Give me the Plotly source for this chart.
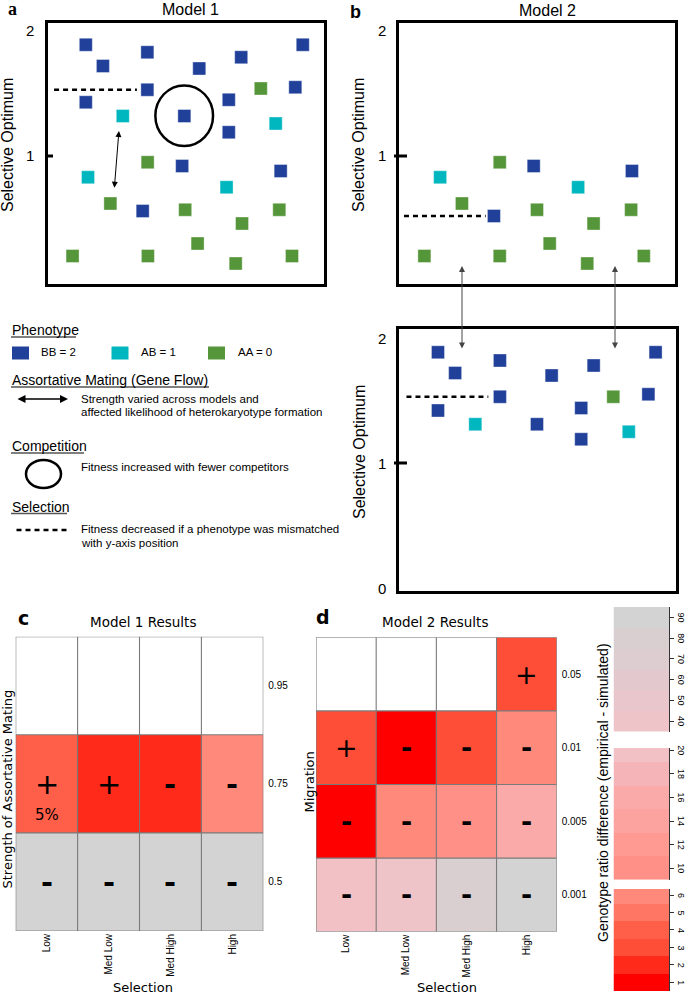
import plotly.graph_objects as go

W, H = 685, 995

# ---------------- data ----------------
GENO_COLORS = {2: "#21409a", 1: "#00b7bf", 0: "#56963a"}
GENO_LABELS = {2: "BB = 2", 1: "AB = 1", 0: "AA = 0"}

# Model 1 schematic (x: position across panel 0-100, y: selective optimum)
m1_x = [13.7, 19.9, 36.0, 54.8, 70.0, 92.3, 36.0, 89.6, 13.7, 65.5, 49.4, 65.5, 48.6, 84.3, 34.3,
        27.1, 82.5, 14.5, 64.7,
        77.1, 36.1, 22.6, 49.7, 83.8, 70.3, 54.2, 8.9, 36.2, 68.0, 88.4]
m1_y = [1.89, 1.72, 1.83, 1.70, 1.79, 1.89, 1.53, 1.55, 1.43, 1.45, 1.32, 1.19, 0.92, 0.88, 0.56,
        1.32, 1.26, 0.83, 0.75,
        1.54, 0.95, 0.62, 0.57, 0.57, 0.46, 0.30, 0.20, 0.20, 0.14, 0.20]
m1_g = [2, 2, 2, 2, 2, 2, 2, 2, 2, 2, 2, 2, 2, 2, 2,
        1, 1, 1, 1,
        0, 0, 0, 0, 0, 0, 0, 0, 0, 0, 0]

# Model 2 - lower-optimum population
m2a_x = [14.9, 22.8, 36.5, 48.8, 34.4, 50.0, 64.9, 84.4, 84.1, 70.5, 54.6, 9.2, 36.5, 68.2, 88.7]
m2a_y = [0.83, 0.62, 0.95, 0.92, 0.52, 0.57, 0.75, 0.88, 0.57, 0.46, 0.30, 0.20, 0.20, 0.14, 0.20]
m2a_g = [1, 0, 0, 2, 2, 0, 1, 2, 0, 0, 0, 0, 0, 0, 0]

# Model 2 - higher-optimum population
m2b_x = [14.1, 20.3, 36.5, 55.2, 70.4, 92.8, 36.5, 77.5, 90.2, 14.1, 65.9, 27.6, 49.9, 83.1, 65.9]
m2b_y = [1.886, 1.72, 1.82, 1.70, 1.78, 1.886, 1.53, 1.53, 1.55, 1.42, 1.44, 1.31, 1.31, 1.25, 1.19]
m2b_g = [2, 2, 2, 2, 2, 2, 2, 0, 2, 2, 2, 1, 2, 1, 2]

# selection (dashed) lines: [x0, x1], y
m1_sel_x, m1_sel_y = [2.2, 32.2], 1.53
m2a_sel_x, m2a_sel_y = [1.8, 31.4], 0.52
m2b_sel_x, m2b_sel_y = [2.7, 32.3], 1.53

# competition circle / assortative-mating arrow (model 1)
m1_comp_x, m1_comp_y = [38.9, 59.8], [1.08, 1.565]
m1_mate_x, m1_mate_y = [25.7, 24.0], [1.20, 0.734]

# results heatmaps
selection_levels = ["Low", "Med Low", "Med High", "High"]
mating_levels = ["0.5", "0.75", "0.95"]
m1_ratio = [[90, 90, 90, 90],
            [4, 2, 2, 6],
            [None, None, None, None]]
m1_sign = [["-", "-", "-", "-"],
           ["+", "+", "-", "-"],
           ["", "", "", ""]]

migration_levels = ["0.001", "0.005", "0.01", "0.05"]
m2_ratio = [[20, 40, 80, 90],
            [1, 6, 10, 16],
            [3, 1, 3, 6],
            [None, None, None, 3]]
m2_sign = [["-", "-", "-", "-"],
           ["-", "-", "-", "-"],
           ["+", "-", "-", "-"],
           ["", "", "", "+"]]

# colour bands of the (broken) genotype-ratio scale
band_vals = [1, 2, 3, 4, 5, 6, 10, 12, 14, 16, 18, 20, 40, 50, 60, 70, 80, 90]
band_colors = ["#ff0000", "#ff2a1a", "#ff4e38", "#ff5f48", "#ff7664", "#ff897b",
               "#ff9088", "#ff9a92", "#fca39f", "#f9aaa9", "#f5b5b8", "#f2c1c6",
               "#efc4c9", "#e9c6cb", "#e3c9cd", "#ddccd0", "#d9cfd1", "#d3d3d3"]
seg_low = [1, 2, 3, 4, 5, 6]
seg_mid = [10, 12, 14, 16, 18, 20]
seg_high = [40, 50, 60, 70, 80, 90]

# ---------------- helpers ----------------
def px(x):
    return x / W

def py(y):
    return 1 - y / H

def dom_x(a, b):
    return [a / W, b / W]

def dom_y(top, bottom):
    return [1 - bottom / H, 1 - top / H]

n = len(band_colors)
cscale = []
for i, c in enumerate(band_colors):
    cscale.append([i / n, c])
    cscale.append([(i + 1) / n, c])

def to_idx(mat):
    return [[None if v is None else band_vals.index(v) for v in row] for row in mat]

fig = go.Figure()
annotations = []
shapes = []

SANS = "Liberation Sans, Arial, sans-serif"
DJ = "DejaVu Sans, sans-serif"

def text(t, x, y, size, family=SANS, xanchor="center", yanchor="middle", angle=0, color="black"):
    annotations.append(dict(text=t, x=px(x), y=py(y), xref="paper", yref="paper",
                            xanchor=xanchor, yanchor=yanchor, showarrow=False,
                            textangle=angle, font=dict(size=size, family=family, color=color)))

# ---------------- schematic panels ----------------
def schematic(xs, ys, gs, xa, ya):
    for g in [2, 1, 0]:
        sx = [x for x, gg in zip(xs, gs) if gg == g]
        sy = [y for y, gg in zip(ys, gs) if gg == g]
        fig.add_trace(go.Scatter(x=sx, y=sy, mode="markers", xaxis=xa, yaxis=ya,
                                 marker=dict(symbol="square", size=13, color=GENO_COLORS[g],
                                             line=dict(width=0.6, color="rgba(255,255,255,0.6)")),
                                 name=GENO_LABELS[g], showlegend=False, hoverinfo="skip"))

schematic(m1_x, m1_y, m1_g, "x", "y")
schematic(m2a_x, m2a_y, m2a_g, "x2", "y2")
schematic(m2b_x, m2b_y, m2b_g, "x3", "y3")

box_axis = dict(showline=True, mirror=True, linewidth=3, linecolor="black",
                showticklabels=False, ticks="", showgrid=False, zeroline=False, fixedrange=True)

layout_axes = {}
layout_axes["xaxis"] = dict(box_axis, domain=dom_x(48, 324), range=[0, 100], anchor="y")
layout_axes["yaxis"] = dict(box_axis, domain=dom_y(23, 284), range=[-0.024, 2.064], anchor="x")
layout_axes["xaxis2"] = dict(box_axis, domain=dom_x(399, 675), range=[0, 100], anchor="y2")
layout_axes["yaxis2"] = dict(box_axis, domain=dom_y(23, 284), range=[-0.024, 2.064], anchor="x2")
layout_axes["xaxis3"] = dict(box_axis, domain=dom_x(399, 675.5), range=[0, 100], anchor="y3")
layout_axes["yaxis3"] = dict(box_axis, domain=dom_y(329, 591), range=[-0.024, 2.072], anchor="x3")

# selection (dashed) lines
for (sx, sy, xr, yr) in [(m1_sel_x, m1_sel_y, "x", "y"), (m2a_sel_x, m2a_sel_y, "x2", "y2"),
                         (m2b_sel_x, m2b_sel_y, "x3", "y3")]:
    shapes.append(dict(type="line", xref=xr, yref=yr, x0=sx[0], x1=sx[1], y0=sy, y1=sy,
                       line=dict(color="black", width=2.5, dash="5px,4px")))

# competition circle
shapes.append(dict(type="circle", xref="x", yref="y", x0=m1_comp_x[0], x1=m1_comp_x[1],
                   y0=m1_comp_y[0], y1=m1_comp_y[1], line=dict(color="black", width=2.5)))

# assortative mating arrow in model 1
annotations.append(dict(x=m1_mate_x[0], y=m1_mate_y[0], ax=m1_mate_x[1], ay=m1_mate_y[1],
                        xref="x", yref="y", axref="x", ayref="y", text="", showarrow=True,
                        arrowside="end+start", arrowhead=2, arrowsize=1.2, arrowwidth=1,
                        arrowcolor="black"))

# gene-flow arrows between the two model 2 populations
for xa in [462, 615]:
    annotations.append(dict(x=px(xa), y=py(266), xref="paper", yref="paper", ax=0, ay=84,
                            text="", showarrow=True, arrowside="end+start", arrowhead=2,
                            arrowsize=1.2, arrowwidth=1, arrowcolor="#444"))

# tick marks at 1 and labels
for (x0, x1, yr) in [(45, 53, "y"), (394, 407, "y2"), (394, 407, "y3")]:
    shapes.append(dict(type="line", xref="paper", yref=yr, x0=px(x0), x1=px(x1), y0=1, y1=1,
                       line=dict(color="black", width=3)))

def ylab(t, x, yval, yr):
    annotations.append(dict(text=t, x=px(x), y=yval, xref="paper", yref=yr, showarrow=False,
                            xanchor="center", yanchor="middle",
                            font=dict(size=15, family=SANS, color="black")))

for t, v in [("2", 2.0), ("1", 1.0), ("0", -0.12)]:
    ylab(t, 30, v, "y")
    ylab(t, 382, v, "y2")
for t, v in [("2", 2.0), ("1", 1.0), ("0", 0.0)]:
    ylab(t, 382, v, "y3")

text("Selective Optimum", 8, 145, 16, angle=-90)
text("Selective Optimum", 359, 145, 16, angle=-90)
text("Selective Optimum", 359, 452, 16, angle=-90)
text("Model 1", 190, 9, 16)
text("Model 2", 547, 10, 16)
text("<b>a</b>", 12, 9, 18, family="Liberation Serif, serif")
text("<b>b</b>", 355, 12, 18)

# ---------------- legend ----------------
def heading(t, y, underline_to):
    text(t, 10, y, 14, xanchor="left")
    shapes.append(dict(type="line", xref="paper", yref="paper", x0=px(11), x1=px(underline_to),
                       y0=py(y + 7), y1=py(y + 7), line=dict(color="#555", width=1.3)))

heading("Phenotype", 330, 76)
for g, rx, tx in [(2, 12, 39), (1, 111.5, 138.5), (0, 208, 236.5)]:
    shapes.append(dict(type="rect", xref="paper", yref="paper", x0=px(rx), x1=px(rx + 17),
                       y0=py(359.5), y1=py(346.5), fillcolor=GENO_COLORS[g], line=dict(width=0)))
    text(GENO_LABELS[g], tx, 352.5, 11.5, xanchor="left")

heading("Assortative Mating (Gene Flow)", 380, 209)
annotations.append(dict(x=px(68), y=py(399), xref="paper", yref="paper", ax=-52, ay=0, text="",
                        showarrow=True, arrowside="end+start", arrowhead=2, arrowsize=1,
                        arrowwidth=1.6, arrowcolor="black"))
text("Strength varied across models and", 79, 398.5, 11.5, xanchor="left")
text("affected likelihood of heterokaryotype formation", 79, 411.8, 11.5, xanchor="left")

heading("Competition", 446, 84)
shapes.append(dict(type="circle", xref="paper", yref="paper", x0=px(26), x1=px(61),
                   y0=py(488), y1=py(460), line=dict(color="black", width=2.5)))
text("Fitness increased with fewer competitors", 79, 467, 11.5, xanchor="left")

heading("Selection", 506.5, 67)
shapes.append(dict(type="line", xref="paper", yref="paper", x0=px(16.5), x1=px(68.5),
                   y0=py(530), y1=py(530), line=dict(color="black", width=2.5, dash="5px,4px")))
text("Fitness decreased if a phenotype was mismatched", 79, 528.5, 11.5, xanchor="left")
text("with y-axis position", 79, 543, 11.5, xanchor="left")

# ---------------- heatmaps ----------------
def heat(zvals, signs, ylevels, xa, ya, size):
    fig.add_trace(go.Heatmap(z=to_idx(zvals), x=selection_levels, y=ylevels, xaxis=xa, yaxis=ya,
                             colorscale=cscale, zmin=-0.5, zmax=n - 0.5, showscale=False,
                             hoverinfo="skip"))
    nr, nc = len(ylevels), len(selection_levels)
    for i in range(nc + 1):
        shapes.append(dict(type="line", xref=xa, yref=ya, x0=i - 0.5, x1=i - 0.5,
                           y0=-0.5, y1=nr - 0.5, line=dict(color="#7a7a7a", width=1.1)))
    for j in range(nr + 1):
        shapes.append(dict(type="line", xref=xa, yref=ya, x0=-0.5, x1=nc - 0.5,
                           y0=j - 0.5, y1=j - 0.5, line=dict(color="#7a7a7a", width=1.1)))
    for r, row in enumerate(signs):
        for c, s in enumerate(row):
            if not s:
                continue
            t = "+" if s == "+" else "<b>-</b>"
            annotations.append(dict(text=t, x=c, y=r, xref=xa, yref=ya,
                                    showarrow=False, xanchor="center", yanchor="middle",
                                    font=dict(size=size, family=DJ, color="black")))

heat(m1_ratio, m1_sign, mating_levels, "x4", "y4", 29)
heat(m2_ratio, m2_sign, migration_levels, "x5", "y5", 27)
annotations.append(dict(text="5%", x=0, y=mating_levels.index("0.75"), xref="x4", yref="y4",
                        yshift=-31, showarrow=False, font=dict(size=15, family=DJ, color="black")))

hx = dict(type="category", tickangle=-90, tickfont=dict(size=10, family=SANS, color="black"),
          showline=False, ticks="", showgrid=False, zeroline=False, fixedrange=True)
hy = dict(type="category", side="right", tickfont=dict(size=10, family=SANS, color="black"),
          showline=False, ticks="", showgrid=False, zeroline=False, fixedrange=True,
          ticklabelstandoff=4)
layout_axes["xaxis4"] = dict(hx, domain=dom_x(15.7, 263.3), anchor="y4", range=[-0.5, 3.5])
layout_axes["yaxis4"] = dict(hy, domain=dom_y(636.7, 931), anchor="x4", range=[-0.5, 2.5])
layout_axes["xaxis5"] = dict(hx, domain=dom_x(316, 556.7), anchor="y5", range=[-0.5, 3.5])
layout_axes["yaxis5"] = dict(hy, domain=dom_y(637.3, 931.7), anchor="x5", range=[-0.5, 3.5])

text("Model 1 Results", 143, 622, 13.5, family=DJ)
text("Model 2 Results", 435, 622, 13.5, family=DJ)
text("Selection", 142.5, 987, 13, family=DJ)
text("Selection", 446.5, 987, 13, family=DJ)
text("Strength of Assortative Mating", 6.5, 789, 13, family=DJ, angle=-90)
text("Migration", 308.5, 782, 13, family=DJ, angle=-90)
text("<b>c</b>", 23, 618, 19, family=DJ)
text("<b>d</b>", 323, 617, 19, family=DJ)

# ---------------- broken colour bar ----------------
for k, (seg, top, bot, rng) in enumerate([(seg_high, 607, 731.5, [35, 95]),
                                          (seg_mid, 748, 880, [9, 20.2]),
                                          (seg_low, 889, 991, [0.5, 6.35])]):
    xa, ya = "x%d" % (6 + k), "y%d" % (6 + k)
    fig.add_trace(go.Heatmap(z=[[band_vals.index(v)] for v in seg], x=[0], y=seg,
                             xaxis=xa, yaxis=ya, colorscale=cscale, zmin=-0.5, zmax=n - 0.5,
                             showscale=False, hoverinfo="skip"))
    layout_axes["xaxis%d" % (6 + k)] = dict(domain=dom_x(613.5, 669), anchor=ya, range=[-0.5, 0.5],
                                           visible=False, fixedrange=True)
    layout_axes["yaxis%d" % (6 + k)] = dict(domain=dom_y(top, bot), anchor=xa, range=rng,
                                           side="right", tickvals=seg, showticklabels=False,
                                           ticks="outside", ticklen=4, tickwidth=1,
                                           tickcolor="#333", showline=True, linecolor="#333",
                                           linewidth=1, showgrid=False, zeroline=False,
                                           fixedrange=True)
    for v in seg:
        annotations.append(dict(text=str(v), x=px(681), y=v, xref="paper", yref=ya,
                                showarrow=False, textangle=90, xanchor="center", yanchor="middle",
                                font=dict(size=9, family=SANS, color="black")))

text("Genotype ratio difference (empirical - simulated)", 603, 793, 14, angle=-90)

fig.update_layout(width=W, height=H, margin=dict(l=0, r=0, t=0, b=0), autosize=False,
                  paper_bgcolor="white", plot_bgcolor="white", showlegend=False,
                  annotations=annotations, shapes=shapes, **layout_axes)

fig.write_html("out.html", config={"displayModeBar": False},
               post_script="document.body.style.margin='0px';")
